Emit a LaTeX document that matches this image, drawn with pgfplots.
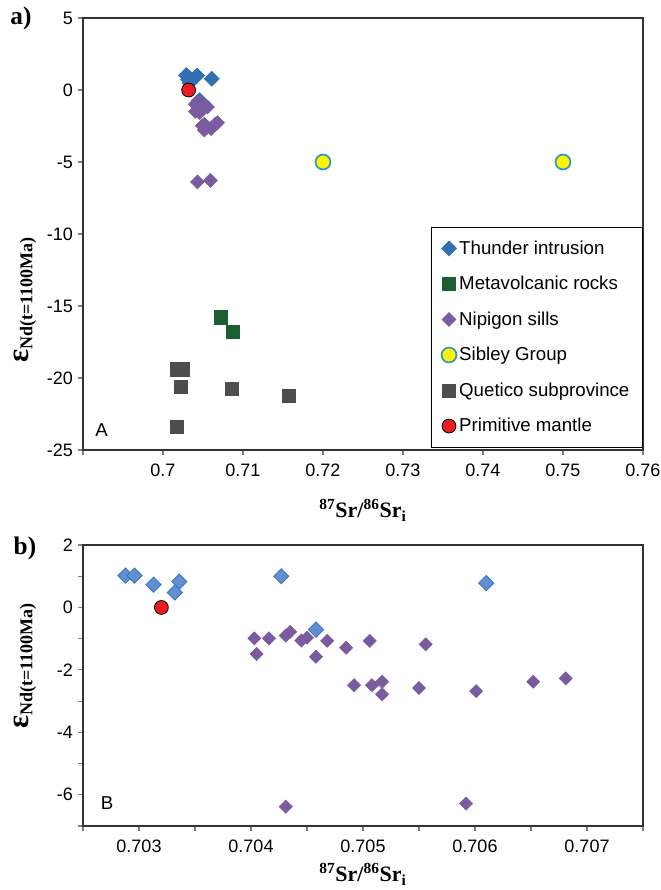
\documentclass[border=0pt]{standalone}
\usepackage{fontspec}
\setmainfont{Liberation Sans}
\newfontfamily\tnr{Liberation Serif}
\usepackage{pgfplots}
\usepackage{pgfplotstable}
\pgfplotsset{compat=1.18}

\definecolor{thunA}{HTML}{3170B3}
\definecolor{thunB}{HTML}{628FD0}
\definecolor{thunBd}{HTML}{3F78C4}
\definecolor{nipi}{HTML}{7A5BA0}
\definecolor{meta}{HTML}{1B5E32}
\definecolor{quet}{HTML}{4D4D4D}
\definecolor{sibf}{HTML}{FFF200}
\definecolor{sibd}{HTML}{2E9AC4}
\definecolor{prim}{HTML}{EC1C24}

% Thunder intrusion
\pgfplotstableread{
x y
0.70288 1.02
0.70296 1.02
0.70313 0.73
0.70336 0.83
0.70332 0.48
0.70427 1.00
0.70458 -0.71
0.70610 0.78
}\thunder

% Nipigon sills
\pgfplotstableread{
x y
0.70403 -0.99
0.70416 -0.99
0.70405 -1.49
0.70431 -0.90
0.70435 -0.78
0.70431 -6.38
0.70445 -1.06
0.70450 -0.97
0.70458 -1.58
0.70468 -1.07
0.70485 -1.29
0.70492 -2.49
0.70506 -1.07
0.70508 -2.49
0.70517 -2.38
0.70517 -2.78
0.70550 -2.58
0.70556 -1.18
0.70592 -6.28
0.70601 -2.68
0.70652 -2.38
0.70681 -2.27
}\nipigon

\pgfplotstableread{
x y
0.7072 -15.78
0.7087 -16.80
}\metavolc

\pgfplotstableread{
x y
0.7200 -5.0
0.7500 -5.0
}\sibley

\pgfplotstableread{
x y
0.7018 -19.40
0.7024 -19.40
0.7022 -20.60
0.7086 -20.76
0.7017 -23.40
0.7157 -21.25
}\quetico

\pgfplotstableread{
x y
0.70320 0.0
}\primitive

\pgfplotsset{
  sketch/.style={
    scale only axis, width=420pt, clip=false,
    axis line style={draw=black!80, line width=1.4pt},
    tick style={draw=black!50, line width=0.8pt},
    tick align=outside, xtick pos=left, ytick pos=left,
    major tick length=4pt, minor tick length=4pt,
    tick label style={font=\fontsize{13.5}{14}\selectfont},
    xticklabel style={yshift=-3pt},
    /pgf/number format/assume math mode=true,
    scaled x ticks=false,
    xlabel style={at={(rel axis cs:0.5,0)}, anchor=center,
      font=\tnr\bfseries\fontsize{16.5}{17}\selectfont},
    ylabel style={anchor=center, font=\tnr\bfseries},
  },
  dia/.style={only marks, mark=square*, mark size=#1,
    mark options={rotate=45}},
}

\newcommand{\epslabel}{{\fontsize{23}{23}\selectfont ε}\raisebox{-3pt}{\fontsize{13.5}{14}\selectfont Nd(t=1100Ma)}}
\newcommand{\srlabel}{\textsuperscript{87}Sr/\textsuperscript{86}Sr\textsubscript{i}}

\begin{document}
\begin{tikzpicture}
\path[use as bounding box] (-62.25pt,-330pt) rectangle (433.5pt,337.5pt);

\begin{axis}[sketch, height=324pt,
  xmin=0.69, xmax=0.76, ymin=-25, ymax=5,
  xtick={0.69,0.70,0.71,0.72,0.73,0.74,0.75,0.76},
  xticklabels={,0.7,0.71,0.72,0.73,0.74,0.75,0.76},
  ytick={-25,-20,-15,-10,-5,0,5},
  xlabel={\srlabel}, xlabel style={yshift=-45pt},
  ylabel={\epslabel}, ylabel style={at={(rel axis cs:-0.1036,0.347)}},
  legend style={at={(1,0.006)}, anchor=south east, draw=black, fill=white,
    font=\fontsize{14}{14}\selectfont, row sep=11pt,
    inner xsep=8pt, inner ysep=8pt},
  legend cell align=left]
\addplot[dia=4pt, draw=thunA, fill=thunA] table {\thunder};
\addlegendentry{Thunder intrusion}
\addplot[only marks, mark=square*, mark size=5pt, draw=meta, fill=meta] table {\metavolc};
\addlegendentry{Metavolcanic rocks}
\addplot[dia=3.7pt, draw=nipi, fill=nipi] table {\nipigon};
\addlegendentry{Nipigon sills}
\addplot[only marks, mark=*, mark size=5.6pt, draw=sibd, fill=sibf, line width=1.3pt] table {\sibley};
\addlegendentry{Sibley Group}
\addplot[only marks, mark=square*, mark size=5pt, draw=quet, fill=quet] table {\quetico};
\addlegendentry{Quetico subprovince}
\addplot[only marks, mark=*, mark size=5.2pt, draw=black, fill=prim, line width=0.6pt] table {\primitive};
\addlegendentry{Primitive mantle}
\node[font=\fontsize{14}{14}\selectfont] at (rel axis cs:0.033,0.045) {A};
\node[font=\tnr\bfseries\fontsize{19}{19}\selectfont, xshift=-46.5pt] at (rel axis cs:0,1) {a)};
\end{axis}

\begin{axis}[sketch, at={(0pt,-282pt)}, height=210.75pt,
  xmin=0.7025, xmax=0.7075, ymin=-7, ymax=2,
  xtick={0.703,0.704,0.705,0.706,0.707},
  xticklabels={0.703,0.704,0.705,0.706,0.707},
  minor xtick={0.7025,0.7035,0.7045,0.7055,0.7065,0.7075},
  ytick={-6,-4,-2,0,2},
  minor ytick={-7,-5,-3,-1,1},
  xlabel={\srlabel}, xlabel style={yshift=-36pt},
  ylabel={\epslabel}, ylabel style={at={(rel axis cs:-0.1036,0.57)}}]
\addplot[dia=3.5pt, draw=nipi, fill=nipi] table {\nipigon};
\addplot[dia=4pt, draw=thunBd, fill=thunB, line width=0.7pt] table {\thunder};
\addplot[only marks, mark=*, mark size=5.2pt, draw=black, fill=prim, line width=0.6pt] table {\primitive};
\node[font=\fontsize{14}{14}\selectfont] at (rel axis cs:0.043,0.082) {B};
\node[font=\tnr\bfseries\fontsize{19}{19}\selectfont, xshift=-43.5pt, yshift=-2.25pt] at (rel axis cs:0,1) {b)};
\end{axis}
\end{tikzpicture}
\end{document}
